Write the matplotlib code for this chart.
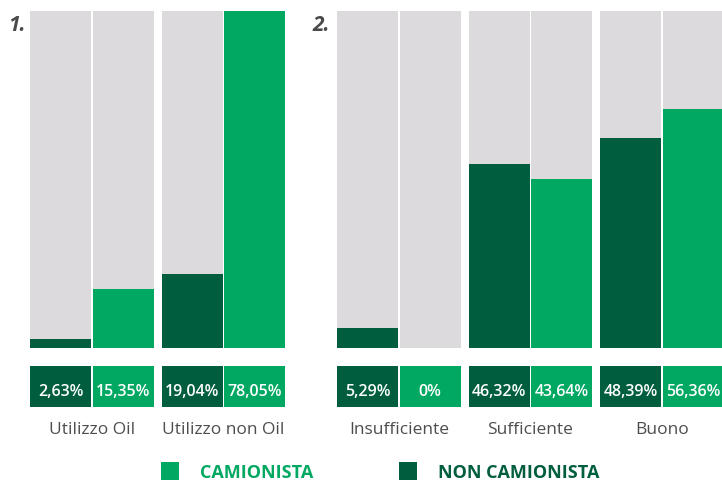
import matplotlib

matplotlib.use("Agg")
import matplotlib.pyplot as plt
from matplotlib.patches import Rectangle

plt.rcParams["font.family"] = ["Open Sans", "DejaVu Sans"]

GREEN = "#00a862"
DARK = "#005e3e"
GREY = "#dcdadd"
TEXT = "#4d4d4d"

panel1_groups = ["Utilizzo Oil", "Utilizzo non Oil"]
panel1_non = [2.7, 22.0]
panel1_cam = [17.5, 100.0]
panel1_non_lbl = ["2,63%", "19,04%"]
panel1_cam_lbl = ["15,35%", "78,05%"]

panel2_groups = ["Insufficiente", "Sufficiente", "Buono"]
panel2_non = [6.0, 54.6, 62.3]
panel2_cam = [0.0, 50.1, 70.9]
panel2_non_lbl = ["5,29%", "46,32%", "48,39%"]
panel2_cam_lbl = ["0%", "43,64%", "56,36%"]

W, H = 722, 481
BAR_W = 61
STEP = 62.8
GROUP = 131.6
PX = 337 / 100  # pixels per data unit on the y axis


def draw_panel(ax, groups, non, cam, non_lbl, cam_lbl):
    for g, name in enumerate(groups):
        pairs = [(non[g], non_lbl[g], DARK), (cam[g], cam_lbl[g], GREEN)]
        for b, (val, lbl, col) in enumerate(pairs):
            x = g * GROUP + b * STEP + BAR_W / 2
            ax.bar(x, 100, width=BAR_W, color=GREY, linewidth=0)
            if val > 0:
                ax.bar(x, val, width=BAR_W, color=col, linewidth=0)
            ax.bar(x, -12.2, bottom=-5.35, width=BAR_W, color=col,
                   linewidth=0, clip_on=False)
            ax.text(x, -13.8, lbl, ha="center", va="baseline", color="white",
                    fontsize=11.5, fontweight="semibold")
        ax.text(g * GROUP + STEP / 2 + BAR_W / 2, -25.2, name, ha="center",
                va="baseline", color=TEXT, fontsize=12.5)
    ax.set_xlim(0, len(groups) * GROUP - GROUP + STEP + BAR_W)
    ax.set_ylim(0, 100)
    ax.axis("off")


fig = plt.figure(figsize=(W / 100, H / 100), dpi=100)

width1 = 2 * GROUP - GROUP + STEP + BAR_W
ax1 = fig.add_axes([30 / W, (H - 349) / H, width1 / W, 337 / H])
draw_panel(ax1, panel1_groups, panel1_non, panel1_cam, panel1_non_lbl, panel1_cam_lbl)

width2 = 3 * GROUP - GROUP + STEP + BAR_W
ax2 = fig.add_axes([337 / W, (H - 349) / H, width2 / W, 337 / H])
draw_panel(ax2, panel2_groups, panel2_non, panel2_cam, panel2_non_lbl, panel2_cam_lbl)

for x, num in [(8, "1."), (312, "2.")]:
    fig.text(x / W, (H - 31) / H, num, ha="left", va="baseline", color="#4a4a4a",
             fontsize=15, fontweight="bold", fontstyle="italic")

# legend
for x, lbl, col in [(161, "CAMIONISTA", GREEN), (399, "NON CAMIONISTA", DARK)]:
    fig.patches.append(Rectangle((x / W, 0), 18 / W, 18 / H, transform=fig.transFigure,
                                 color=col, linewidth=0))
    fig.text((x + 39) / W, (H - 478) / H, lbl, ha="left", va="baseline", color=col,
             fontsize=13, fontweight="bold")

fig.savefig("out.png", dpi=100)
